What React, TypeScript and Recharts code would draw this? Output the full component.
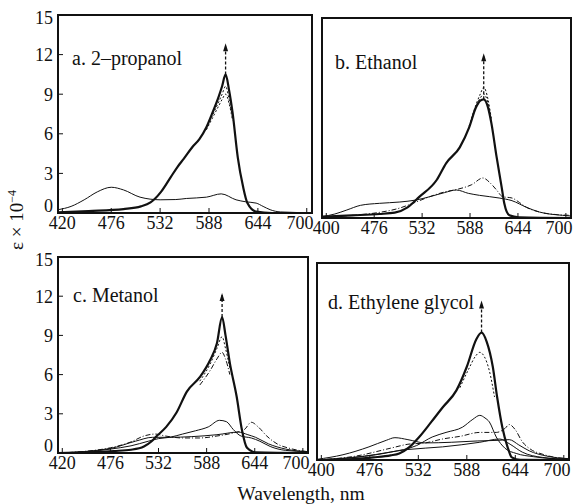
import {
  ComposedChart,
  Line,
  XAxis,
  YAxis,
  ReferenceArea,
  ReferenceLine,
  ReferenceDot,
} from "recharts";

type Pt = [number, number];

// shared axes
const wavelengthTicks = [420, 476, 532, 588, 644, 700];
const epsTicks = [0, 3, 6, 9, 12, 15];
const leftTickLabels = ["420", "476", "532", "588", "644", "700"];
const rightTickLabels = ["400", "476", "532", "588", "644", "700"];
const xDomain: [number, number] = [415, 706];

// a. 2-propanol
const propanolMain: Pt[] = [[415, 0.05], [450, 0.15], [490, 0.3], [510, 0.5], [521, 0.8], [533, 1.6], [544, 2.7], [552, 3.5], [559, 4.1], [569, 5.0], [577, 5.6], [585, 6.5], [592, 7.6], [599, 8.8], [603, 9.6], [607, 10.5], [611, 9.3], [615, 7.6], [621, 4.2], [627, 2.0], [632, 0.75], [642, 0.1], [660, 0], [706, 0]];
const propanolVar1: Pt[] = [[585, 6.4], [592, 7.4], [599, 8.4], [603, 9.0], [607, 9.6], [611, 8.6], [615, 7.2]];
const propanolVar2: Pt[] = [[585, 6.3], [592, 7.2], [599, 8.1], [603, 8.6], [607, 9.0], [611, 8.3], [615, 7.0]];
const propanolThin: Pt[] = [[415, 0.25], [430, 0.5], [445, 1.0], [460, 1.6], [476, 1.95], [490, 1.75], [509, 1.2], [532, 1.0], [550, 1.02], [562, 1.1], [585, 1.2], [602, 1.45], [619, 1.0], [630, 0.85], [642, 0.75], [650, 0.5], [658, 0.25], [670, 0.08], [706, 0.02]];

// b. Ethanol
const ethanolMain: Pt[] = [[415, 0.1], [450, 0.2], [482, 0.3], [500, 0.4], [515, 0.8], [529, 1.6], [549, 2.85], [560, 4.1], [576, 5.3], [587, 6.8], [595, 8.3], [600, 8.8], [604, 8.9], [609, 8.3], [613, 7.1], [619, 4.6], [625, 2.3], [628, 1.1], [634, 0.2], [645, 0.05], [706, 0]];
const ethanolVar1: Pt[] = [[587, 6.9], [595, 8.5], [600, 9.3], [604, 9.8], [609, 8.9], [613, 7.4]];
const ethanolVar2: Pt[] = [[587, 6.8], [595, 8.4], [600, 9.0], [604, 9.3], [609, 8.6], [613, 7.2]];
const ethanolThin1: Pt[] = [[415, 0.1], [430, 0.3], [444, 0.6], [460, 0.95], [482, 1.1], [506, 1.2], [525, 1.35], [541, 1.6], [558, 1.9], [572, 2.1], [586, 1.85], [599, 1.7], [622, 1.5], [637, 1.3], [654, 0.8], [669, 0.45], [696, 0.2], [706, 0.15]];
const ethanolThin2: Pt[] = [[415, 0.05], [450, 0.2], [480, 0.4], [506, 0.75], [521, 1.1], [541, 1.6], [558, 1.95], [573, 2.15], [590, 2.5], [603, 3.0], [612, 2.6], [619, 2.1], [626, 1.6], [637, 1.5], [646, 1.15], [654, 0.8], [669, 0.45], [690, 0.25], [706, 0.2]];

// c. Metanol
const metanolMain: Pt[] = [[415, 0], [450, 0.05], [480, 0.15], [500, 0.25], [515, 0.5], [524, 0.9], [530, 1.3], [541, 2.0], [553, 3.1], [565, 4.7], [580, 5.8], [592, 7.1], [600, 8.4], [606, 10.4], [610, 9.0], [615, 6.9], [623, 4.3], [629, 1.8], [635, 0.4], [645, 0.05], [706, 0]];
const metanolVar1: Pt[] = [[580, 5.5], [592, 6.8], [600, 8.0], [606, 8.9], [610, 8.0], [615, 6.5]];
const metanolVar2: Pt[] = [[580, 5.2], [592, 6.3], [600, 7.2], [606, 7.7], [610, 7.2], [615, 6.0]];
const metanolThin1: Pt[] = [[415, 0], [450, 0.1], [476, 0.3], [500, 0.55], [520, 0.9], [532, 1.1], [545, 1.2], [560, 1.45], [575, 1.7], [590, 2.0], [603, 2.5], [611, 2.4], [619, 1.8], [628, 1.3], [640, 1.15], [650, 0.9], [662, 0.5], [680, 0.2], [706, 0.1]];
const metanolThin2: Pt[] = [[415, 0], [450, 0.15], [476, 0.4], [500, 0.85], [515, 1.3], [528, 1.45], [540, 1.3], [560, 1.15], [580, 1.15], [600, 1.3], [620, 1.55], [632, 1.8], [640, 2.35], [648, 2.0], [658, 1.3], [670, 0.7], [685, 0.35], [706, 0.1]];
const metanolThin3: Pt[] = [[415, 0], [476, 0.35], [505, 0.9], [525, 1.2], [545, 1.2], [570, 1.25], [600, 1.4], [625, 1.6], [636, 1.4], [645, 1.2], [660, 0.7], [680, 0.3], [706, 0.1]];

// d. Ethylene glycol
const glycolMain: Pt[] = [[415, 0], [450, 0.05], [480, 0.2], [500, 0.35], [510, 0.5], [522, 1.0], [533, 1.75], [547, 2.9], [560, 4.0], [576, 5.3], [588, 7.1], [599, 9.2], [605, 9.7], [611, 9.0], [618, 7.1], [623, 4.8], [629, 2.5], [635, 1.0], [640, 0.2], [650, 0.02], [706, 0]];
const glycolVar: Pt[] = [[580, 5.5], [590, 6.9], [598, 7.9], [603, 8.2], [608, 7.9], [614, 6.8], [620, 4.8]];
const glycolThin1: Pt[] = [[415, 0], [460, 0.2], [500, 0.6], [530, 1.1], [548, 1.75], [564, 2.1], [583, 2.5], [595, 3.1], [603, 3.4], [609, 3.2], [614, 2.9], [622, 1.75], [632, 0.9], [645, 0.5], [665, 0.25], [706, 0.05]];
const glycolThin2: Pt[] = [[415, 0], [460, 0.3], [500, 0.9], [520, 1.2], [540, 1.3], [560, 1.6], [580, 1.8], [603, 2.1], [622, 2.1], [632, 2.4], [637, 2.7], [644, 2.3], [652, 1.4], [662, 0.8], [675, 0.45], [690, 0.2], [706, 0.1]];
const glycolThin3: Pt[] = [[415, 0.05], [445, 0.4], [475, 1.0], [495, 1.5], [505, 1.7], [520, 1.55], [540, 1.3], [570, 1.35], [600, 1.45], [625, 1.5], [637, 1.55], [648, 1.15], [660, 0.7], [680, 0.3], [706, 0.1]];
const glycolThin4: Pt[] = [[415, 0], [470, 0.3], [520, 0.8], [560, 1.0], [603, 1.35], [626, 1.6], [638, 1.2], [652, 0.6], [675, 0.2], [706, 0.05]];

// top of the arrow drawn above each main peak
const arrowTops = [12.7, 12.2, 12.1, 12.0];

type Series = { pts: Pt[]; width: number; dash?: string };

const mainStyle = { width: 2.2 };
const varStyle = { width: 1, dash: "2 2" };
const thinStyle = { width: 1 };
const dashDot = { width: 1, dash: "5 2 1 2" };

const ink = "#111";
const font = "'Liberation Serif', 'DejaVu Serif', serif";

const peakOf = (pts: Pt[]) => pts.reduce((m, p) => (p[1] > m[1] ? p : m), pts[0]);

// the last wavelength label sits a little left so it clears the next panel / page edge
const WaveTick = ({ x, y, payload, index, labels }: any) => {
  const dx = index === labels.length - 1 ? -6 : 0;
  return (
    <text x={x + dx} y={y} dy="0.72em" textAnchor="middle" fill={ink} fontSize={18} fontFamily={font}>
      {labels[index] ?? payload.value}
    </text>
  );
};

const EpsTick = ({ x, y, payload }: any) => (
  <text x={x} y={payload.value === 0 ? y - 7 : y} dy="0.35em" textAnchor="end" fill={ink} fontSize={18} fontFamily={font}>
    {payload.value}
  </text>
);

const ArrowHead = ({ cx, cy }: any) => (
  <polygon points={`${cx},${cy - 2} ${cx - 2.5},${cy + 6} ${cx + 2.5},${cy + 6}`} fill={ink} />
);

type PanelProps = {
  left: number;
  top: number;
  w: number;
  h: number;
  main: Pt[];
  extra: Series[];
  arrowTop: number;
  labels: string[];
  showY: boolean;
};

const Panel = ({ left, top, w, h, main, extra, arrowTop, labels, showY }: PanelProps) => {
  const padL = 50;
  const padT = 6;
  const padR = 6;
  const padB = 30;
  const [px, pv] = peakOf(main);
  const all: Series[] = [...extra, { pts: main, ...mainStyle }];
  return (
    <div style={{ position: "absolute", left: left - padL, top: top - padT }}>
      <ComposedChart
        width={w + padL + padR}
        height={h + padT + padB}
        margin={{ top: padT, right: 0, left: 0, bottom: 0 }}
      >
        <XAxis
          type="number"
          dataKey="x"
          domain={xDomain}
          ticks={wavelengthTicks}
          allowDataOverflow
          height={padB}
          axisLine={false}
          tickSize={-5}
          tickMargin={8}
          tickLine={{ stroke: ink }}
          tick={<WaveTick labels={labels} />}
        />
        <YAxis
          type="number"
          domain={[0, 15]}
          ticks={epsTicks}
          allowDataOverflow
          width={padL}
          axisLine={false}
          tickSize={-5}
          tickMargin={10}
          tickLine={{ stroke: ink }}
          tick={showY ? <EpsTick /> : false}
        />
        <YAxis
          yAxisId="right"
          orientation="right"
          type="number"
          domain={[0, 15]}
          ticks={epsTicks}
          width={padR}
          axisLine={false}
          tickSize={-4}
          tickLine={{ stroke: ink }}
          tick={false}
        />
        <ReferenceArea x1={xDomain[0]} x2={xDomain[1]} y1={0} y2={15} fill="none" stroke={ink} strokeWidth={2} />
        {all.map((s, i) => (
          <Line
            key={i}
            data={s.pts.map(([x, y]) => ({ x, y }))}
            dataKey="y"
            type="monotone"
            stroke={ink}
            strokeWidth={s.width}
            strokeDasharray={s.dash}
            dot={false}
            activeDot={false}
            isAnimationActive={false}
          />
        ))}
        <ReferenceLine
          segment={[{ x: px, y: pv }, { x: px, y: arrowTop }]}
          stroke={ink}
          strokeWidth={1.3}
          strokeDasharray="3 2"
        />
        <ReferenceDot x={px} y={arrowTop} r={3} shape={<ArrowHead />} />
      </ComposedChart>
    </div>
  );
};

const titleStyle = (left: number, top: number): React.CSSProperties => ({
  position: "absolute",
  left,
  top,
  fontSize: 20,
  lineHeight: "22px",
  whiteSpace: "nowrap",
  color: ink,
  fontFamily: font,
});

export default function App() {
  return (
    <div
      style={{
        position: "absolute",
        left: 0,
        top: 0,
        width: 577,
        height: 504,
        background: "#fff",
        fontFamily: font,
        overflow: "hidden",
      }}
    >
      <Panel
        left={58}
        top={15}
        w={254}
        h={198}
        main={propanolMain}
        extra={[
          { pts: propanolThin, ...thinStyle },
          { pts: propanolVar1, ...varStyle },
          { pts: propanolVar2, ...varStyle },
        ]}
        arrowTop={arrowTops[0]}
        labels={leftTickLabels}
        showY
      />
      <Panel
        left={322}
        top={18}
        w={249}
        h={200}
        main={ethanolMain}
        extra={[
          { pts: ethanolThin1, ...thinStyle },
          { pts: ethanolThin2, ...dashDot },
          { pts: ethanolVar1, ...varStyle },
          { pts: ethanolVar2, ...varStyle },
        ]}
        arrowTop={arrowTops[1]}
        labels={rightTickLabels}
        showY={false}
      />
      <Panel
        left={58}
        top={257}
        w={250}
        h={196}
        main={metanolMain}
        extra={[
          { pts: metanolThin1, ...thinStyle },
          { pts: metanolThin2, ...dashDot },
          { pts: metanolThin3, ...thinStyle },
          { pts: metanolVar1, ...varStyle },
          { pts: metanolVar2, ...dashDot },
        ]}
        arrowTop={arrowTops[2]}
        labels={leftTickLabels}
        showY
      />
      <Panel
        left={317}
        top={263}
        w={252}
        h={197}
        main={glycolMain}
        extra={[
          { pts: glycolThin1, ...thinStyle },
          { pts: glycolThin2, ...dashDot },
          { pts: glycolThin3, ...thinStyle },
          { pts: glycolThin4, ...thinStyle },
          { pts: glycolVar, ...varStyle },
        ]}
        arrowTop={arrowTops[3]}
        labels={rightTickLabels}
        showY={false}
      />

      <div style={titleStyle(72, 47)}>a. 2–propanol</div>
      <div style={titleStyle(335, 51)}>b. Ethanol</div>
      <div style={titleStyle(73, 284)}>c. Metanol</div>
      <div style={titleStyle(328, 291)}>d. Ethylene glycol</div>

      <div
        style={{
          position: "absolute",
          left: -30,
          top: 210,
          width: 84,
          height: 20,
          lineHeight: "20px",
          textAlign: "center",
          fontSize: 19,
          color: ink,
          transform: "rotate(-90deg)",
          whiteSpace: "nowrap",
        }}
      >
        ε × 10<sup style={{ fontSize: 12 }}>−4</sup>
      </div>
      <div
        style={{
          position: "absolute",
          left: 191,
          top: 484,
          width: 220,
          textAlign: "center",
          fontSize: 19.5,
          lineHeight: "20px",
          color: ink,
        }}
      >
        Wavelength, nm
      </div>
    </div>
  );
}
